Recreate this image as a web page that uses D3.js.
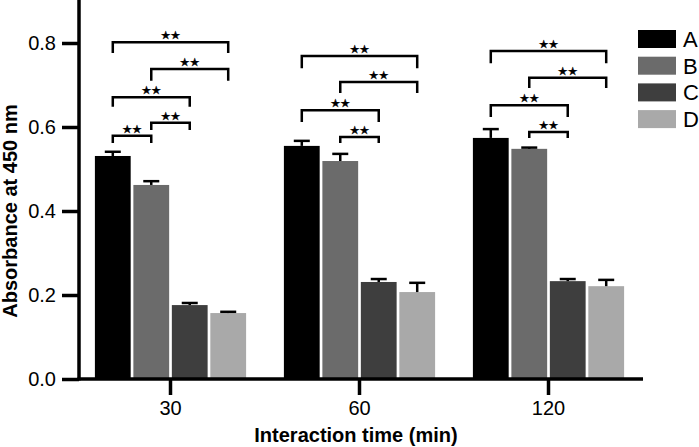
<!DOCTYPE html>
<html>
<head>
<meta charset="utf-8">
<script src="https://cdn.jsdelivr.net/npm/d3@7"></script>
<style>
  body { margin: 0; background: #fff; }
  svg { display: block; font-family: "Liberation Sans", Arial, sans-serif; }
</style>
</head>
<body>
<svg id="chart" width="699" height="447"></svg>
<script>
const times = ["30", "60", "120"];
const groups = ["A", "B", "C", "D"];
const colors = ["#000000", "#6b6b6b", "#3e3e3e", "#a9a9a9"];

// mean per time point, one array per group
const meanA = [0.531, 0.555, 0.574];
const meanB = [0.462, 0.519, 0.548];
const meanC = [0.176, 0.231, 0.233];
const meanD = [0.157, 0.207, 0.221];
// upper error (SD)
const errA = [0.010, 0.012, 0.021];
const errB = [0.009, 0.017, 0.003];
const errC = [0.005, 0.007, 0.005];
const errD = [0.003, 0.022, 0.015];

const yTicks = [0, 0.2, 0.4, 0.6, 0.8];

// significance brackets: time, from, to, top value, leg bottom value
const brackets = [
  ["30", "A", "B", 0.579, 0.562],
  ["30", "B", "C", 0.610, 0.593],
  ["30", "A", "C", 0.671, 0.648],
  ["30", "B", "D", 0.738, 0.710],
  ["30", "A", "D", 0.802, 0.776],
  ["60", "B", "C", 0.576, 0.562],
  ["60", "A", "C", 0.640, 0.612],
  ["60", "B", "D", 0.707, 0.681],
  ["60", "A", "D", 0.769, 0.740],
  ["120", "B", "C", 0.588, 0.574],
  ["120", "A", "C", 0.652, 0.624],
  ["120", "B", "D", 0.717, 0.693],
  ["120", "A", "D", 0.781, 0.752]
];

const means = [meanA, meanB, meanC, meanD];
const errs = [errA, errB, errC, errD];
const data = [];
times.forEach((t, i) => {
  groups.forEach((g, j) => {
    data.push({ time: t, group: g, value: means[j][i], err: errs[j][i], color: colors[j] });
  });
});

const svg = d3.select("#chart");
const left = 79, bottom = 379;

const x0 = d3.scaleBand().domain(times).range([76, 643]);
const groupW = x0.bandwidth() * 0.8;
const x1 = d3.scaleBand().domain(groups).range([0, groupW]).paddingInner(0.07);
const gx = t => x0(t) + (x0.bandwidth() - groupW) / 2;
const y = d3.scaleLinear().domain([0, 0.9]).range([bottom, 1]);

// bars
svg.append("g")
  .selectAll("rect")
  .data(data)
  .enter()
  .append("rect")
  .attr("x", d => gx(d.time) + x1(d.group))
  .attr("y", d => y(d.value))
  .attr("width", x1.bandwidth())
  .attr("height", d => y(0) - y(d.value))
  .attr("fill", d => d.color);

// error bars (upper only)
const eb = svg.append("g").attr("stroke", "#000").attr("stroke-width", 2.5);
data.forEach(d => {
  const cx = gx(d.time) + x1(d.group) + x1.bandwidth() / 2;
  eb.append("line")
    .attr("x1", cx).attr("x2", cx)
    .attr("y1", y(d.value)).attr("y2", y(d.value + d.err));
  eb.append("line")
    .attr("x1", cx - 8).attr("x2", cx + 8)
    .attr("y1", y(d.value + d.err)).attr("y2", y(d.value + d.err));
});

// y axis
const yAxis = d3.axisLeft(y).tickValues(yTicks).tickFormat(d3.format(".1f")).tickSize(17).tickPadding(6);
const yg = svg.append("g").attr("transform", `translate(${left},0)`).call(yAxis);
yg.select(".domain").remove();
yg.selectAll(".tick line").attr("stroke", "#000").attr("stroke-width", 3.5);
yg.selectAll(".tick text").attr("font-size", 20).attr("fill", "#000");
svg.append("line")
  .attr("x1", left).attr("x2", left)
  .attr("y1", 0).attr("y2", bottom + 1.5)
  .attr("stroke", "#000").attr("stroke-width", 3.5);

// x axis
const xAxis = d3.axisBottom(x0).tickSize(16).tickPadding(6);
const xg = svg.append("g").attr("transform", `translate(0,${bottom})`).call(xAxis);
xg.select(".domain").remove();
xg.selectAll(".tick line").attr("stroke", "#000").attr("stroke-width", 3.5);
xg.selectAll(".tick text").attr("font-size", 20).attr("fill", "#000");
svg.append("line")
  .attr("x1", left - 1.5).attr("x2", 643)
  .attr("y1", bottom).attr("y2", bottom)
  .attr("stroke", "#000").attr("stroke-width", 3.5);

// axis titles
svg.append("text")
  .attr("x", 356).attr("y", 442)
  .attr("text-anchor", "middle")
  .attr("font-size", 20).attr("font-weight", "bold")
  .text("Interaction time (min)");

svg.append("text")
  .attr("transform", "translate(17,211) rotate(-90)")
  .attr("text-anchor", "middle")
  .attr("font-size", 20).attr("font-weight", "bold")
  .text("Absorbance at 450 nm");

// significance brackets
const bg = svg.append("g");
brackets.forEach(([t, a, b, top, leg]) => {
  const xa = gx(t) + x1(a) + x1.bandwidth() / 2;
  const xb = gx(t) + x1(b) + x1.bandwidth() / 2;
  bg.append("path")
    .attr("d", `M${xa},${y(leg)}V${y(top)}H${xb}V${y(leg)}`)
    .attr("fill", "none")
    .attr("stroke", "#000")
    .attr("stroke-width", 2.5);
  bg.append("text")
    .attr("x", (xa + xb) / 2)
    .attr("y", y(top) - 3)
    .attr("text-anchor", "middle")
    .attr("font-family", "DejaVu Sans")
    .attr("font-size", 11)
    .attr("stroke", "#000")
    .attr("stroke-width", 0.4)
    .text("\u2605\u2605");
});

// legend
const lg = svg.append("g").attr("transform", "translate(638,30)");
groups.forEach((g, i) => {
  lg.append("rect")
    .attr("x", 0).attr("y", i * 26.7)
    .attr("width", 38).attr("height", 18)
    .attr("fill", colors[i]);
  lg.append("text")
    .attr("x", 45).attr("y", i * 26.7 + 9)
    .attr("dy", "0.36em")
    .attr("font-size", 22)
    .text(g);
});
</script>
</body>
</html>
